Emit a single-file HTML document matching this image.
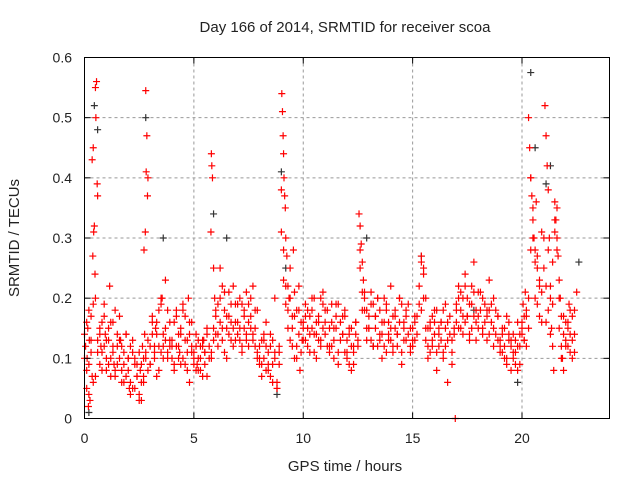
<!DOCTYPE html>
<html><head><meta charset="utf-8"><style>
body{margin:0;background:#fff}
svg text{font-family:"Liberation Sans",sans-serif;font-size:14px;fill:#222}
svg text.big{font-size:15px}
</style></head><body>
<svg id="chart" width="640" height="480">
<text class="big" x="345" y="32" text-anchor="middle">Day 166 of 2014, SRMTID for receiver scoa</text>
<text class="big" x="345" y="471" text-anchor="middle">GPS time / hours</text>
<text class="big" transform="translate(19,238) rotate(-90)" text-anchor="middle">SRMTID / TECUs</text>
<g id="grid"></g><g id="pts"></g>
<rect x="84.5" y="57.5" width="525" height="361" fill="none" stroke="#000"/>
<g id="ticks"></g>
</svg>
<script>
const xTicks=[0,5,10,15,20];
const yTicks=[0,0.1,0.2,0.3,0.4,0.5,0.6];
const yTickLabels=["0","0.1","0.2","0.3","0.4","0.5","0.6"];
const redT=[0.05,0.1,0.15,0.2,0.25,0.3,0.12,0.22,0.35,0.18,
0.35,0.55,0.5,0.4,0.45,0.42,0.58,0.48,0.52,0.6,0.38,
0.7,0.8,0.9,1.0,1.1,1.2,1.3,1.4,0.75,0.95,1.15,1.35,
1.5,1.6,1.7,1.8,1.9,2.0,2.1,2.2,2.3,2.4,1.65,2.05,
2.5,2.55,2.6,2.65,2.7,2.75,
2.8,2.85,2.82,2.9,2.88,2.78,2.72,
3.0,3.1,3.2,3.3,3.4,3.5,3.6,3.7,3.8,3.9,3.55,3.25,
4.0,4.1,4.2,4.3,4.4,4.5,4.6,4.7,4.8,4.9,4.35,4.75,
5.0,5.1,5.2,5.3,5.4,5.5,5.6,5.15,5.45,
5.8,5.82,5.85,5.78,5.9,5.95,
6.0,6.1,6.2,6.3,6.4,6.5,6.6,6.7,6.8,6.9,
7.0,7.1,7.2,7.3,7.4,7.5,7.6,7.7,7.8,7.9,
8.0,8.1,8.2,8.3,8.4,8.5,8.6,8.7,8.8,8.9,
9.02,9.05,9.08,9.1,9.12,9.15,9.18,9.2,9.25,9.3,
9.35,9.4,9.5,9.55,9.6,9.7,9.8,9.85,9.95,
10.0,10.1,10.2,10.3,10.4,10.5,10.6,10.7,10.8,10.9,11.0,11.2,11.4,11.5,11.6,11.8,11.9,11.3,
12.0,12.1,12.2,12.3,12.4,
12.55,12.6,12.65,12.7,12.75,12.8,
12.9,13.0,13.1,13.2,13.3,13.4,13.5,13.6,13.7,13.8,13.9,14.0,14.1,14.2,14.3,14.4,14.5,14.6,14.7,14.9,
15.0,15.1,15.4,15.5,15.6,15.7,15.8,15.9,16.0,16.1,16.2,16.3,16.4,16.5,16.6,16.8,
16.95,
17.0,17.1,17.2,17.3,17.4,17.5,17.6,17.7,17.8,17.9,18.0,18.2,18.4,18.5,18.7,18.9,
19.0,19.1,19.2,19.3,19.4,19.5,19.6,19.7,19.8,19.9,
20.0,20.05,20.1,20.15,20.2,
20.3,20.35,20.4,20.45,20.5,20.55,20.6,20.7,20.8,20.65,20.9,
21.05,21.1,21.15,21.2,21.25,21.3,21.35,21.4,21.45,
21.5,21.55,21.6,21.65,21.7,21.75,21.8,21.85,21.9,
22.0,22.1,22.15,22.2,22.3,22.4,22.5];
const redV=[0.12,0.05,0.15,0.09,0.03,0.17,0.1,0.13,0.07,0.02,
0.43,0.56,0.55,0.45,0.32,0.31,0.39,0.24,0.5,0.37,0.27,
0.15,0.11,0.19,0.08,0.13,0.1,0.16,0.07,0.12,0.14,0.22,0.09,
0.12,0.17,0.08,0.06,0.14,0.1,0.04,0.11,0.09,0.07,0.13,0.05,
0.03,0.08,0.06,0.12,0.1,0.14,
0.545,0.47,0.41,0.4,0.37,0.31,0.28,
0.09,0.16,0.12,0.07,0.18,0.11,0.14,0.23,0.1,0.13,0.2,0.15,
0.12,0.08,0.17,0.1,0.14,0.19,0.09,0.13,0.06,0.16,0.11,0.2,
0.1,0.14,0.08,0.12,0.07,0.11,0.15,0.09,0.13,
0.44,0.42,0.4,0.31,0.25,0.2,
0.18,0.12,0.25,0.15,0.21,0.1,0.17,0.13,0.22,0.16,
0.14,0.2,0.11,0.17,0.13,0.19,0.15,0.22,0.12,0.18,
0.1,0.07,0.13,0.16,0.09,0.12,0.06,0.2,0.05,0.11,
0.54,0.51,0.47,0.44,0.4,0.37,0.35,0.3,0.27,0.22,
0.2,0.25,0.15,0.28,0.1,0.18,0.22,0.08,0.13,
0.15,0.19,0.12,0.17,0.2,0.14,0.1,0.16,0.13,0.21,0.18,0.11,0.15,0.19,0.09,0.14,0.17,0.12,
0.1,0.14,0.08,0.12,0.16,
0.34,0.32,0.29,0.26,0.23,0.2,
0.18,0.15,0.21,0.12,0.17,0.2,0.14,0.1,0.16,0.19,0.13,0.22,0.11,0.17,0.14,0.2,0.09,0.15,0.18,0.12,
0.13,0.17,0.27,0.24,0.2,0.1,0.15,0.12,0.18,0.08,0.14,0.16,0.11,0.19,0.06,0.13,
0.0,
0.18,0.22,0.15,0.2,0.24,0.17,0.13,0.19,0.26,0.16,0.21,0.14,0.18,0.23,0.12,0.17,
0.12,0.15,0.1,0.17,0.13,0.08,0.14,0.11,0.16,0.09,
0.15,0.19,0.13,0.21,0.17,
0.5,0.45,0.4,0.37,0.33,0.3,0.28,0.25,0.22,0.36,0.31,
0.52,0.47,0.42,0.38,0.3,0.2,0.15,0.12,0.08,
0.36,0.33,0.3,0.27,0.23,0.2,0.17,0.1,0.08,
0.12,0.16,0.19,0.14,0.1,0.18,0.21];
const gridT=[0.0,0.1,0.2,0.3,0.4,0.5,0.6,0.7,0.8,0.9,
1.0,1.1,1.2,1.3,1.4,1.5,1.6,1.7,1.8,1.9,
2.0,2.1,2.2,2.3,2.4,2.5,2.6,2.7,2.8,2.9,
3.0,3.1,3.2,3.3,3.4,3.5,3.6,3.7,3.8,3.9,
4.0,4.1,4.2,4.3,4.4,4.5,4.6,4.7,4.8,4.9,
5.0,5.1,5.2,5.3,5.4,5.5,5.6,5.7,5.8,5.9,
6.0,6.1,6.2,6.3,6.4,6.5,6.6,6.7,6.8,6.9,
7.0,7.1,7.2,7.3,7.4,7.5,7.6,7.7,7.8,7.9,
8.0,8.1,8.2,8.3,8.4,8.5,8.6,8.7,8.8,8.9,
9.0,9.1,9.2,9.3,9.4,9.5,9.6,9.7,9.8,9.9,
10.0,10.1,10.2,10.3,10.4,10.5,10.6,10.7,10.8,10.9,
11.0,11.1,11.2,11.3,11.4,11.5,11.6,11.7,11.8,11.9,
12.0,12.1,12.2,12.3,12.4,12.5,12.6,12.7,12.8,12.9,
13.0,13.1,13.2,13.3,13.4,13.5,13.6,13.7,13.8,13.9,
14.0,14.1,14.2,14.3,14.4,14.5,14.6,14.7,14.8,14.9,
15.0,15.1,15.2,15.3,15.4,15.5,15.6,15.7,15.8,15.9,
16.0,16.1,16.2,16.3,16.4,16.5,16.6,16.7,16.8,16.9,
17.0,17.1,17.2,17.3,17.4,17.5,17.6,17.7,17.8,17.9,
18.0,18.1,18.2,18.3,18.4,18.5,18.6,18.7,18.8,18.9,
19.0,19.1,19.2,19.3,19.4,19.5,19.6,19.7,19.8,19.9,
20.0,20.1,20.2,20.3,20.4,20.5,20.6,20.7,20.8,20.9,
21.0,21.1,21.2,21.3,21.4,21.5,21.6,21.7,21.8,21.9,
22.0,22.1,22.2,22.3,22.4];
const redV2=[0.14,0.08,0.18,0.11,0.06,0.2,0.13,0.09,0.16,0.12,
0.1,0.15,0.07,0.12,0.18,0.09,0.13,0.06,0.11,0.14,
0.08,0.12,0.05,0.1,0.07,0.04,0.09,0.06,0.11,0.08,
0.12,0.17,0.1,0.14,0.08,0.19,0.12,0.15,0.11,0.16,
0.13,0.09,0.18,0.12,0.15,0.1,0.17,0.08,0.14,0.11,
0.09,0.12,0.1,0.08,0.13,0.11,0.07,0.12,0.1,0.15,
0.17,0.14,0.2,0.13,0.18,0.15,0.21,0.16,0.12,0.19,
0.16,0.13,0.19,0.15,0.21,0.12,0.17,0.14,0.18,0.11,
0.12,0.09,0.14,0.08,0.11,0.07,0.13,0.1,0.06,0.09,
0.31,0.23,0.19,0.15,0.2,0.12,0.17,0.1,0.14,0.16,
0.16,0.13,0.18,0.11,0.15,0.2,0.14,0.17,0.12,0.19,
0.14,0.18,0.12,0.16,0.1,0.15,0.19,0.13,0.17,0.11,
0.13,0.09,0.15,0.11,0.14,0.12,0.25,0.18,0.21,0.15,
0.17,0.13,0.19,0.15,0.12,0.18,0.14,0.2,0.11,0.16,
0.15,0.12,0.18,0.14,0.2,0.11,0.16,0.13,0.19,0.15,
0.12,0.16,0.14,0.22,0.18,0.25,0.13,0.15,0.11,0.17,
0.14,0.18,0.12,0.16,0.1,0.15,0.13,0.17,0.11,0.14,
0.16,0.2,0.18,0.14,0.22,0.17,0.19,0.15,0.21,0.18,
0.17,0.21,0.15,0.19,0.13,0.18,0.16,0.2,0.14,0.17,
0.13,0.11,0.15,0.09,0.14,0.12,0.1,0.13,0.08,0.12,
0.14,0.17,0.12,0.2,0.28,0.35,0.26,0.19,0.23,0.16,
0.3,0.22,0.18,0.14,0.26,0.31,0.35,0.2,0.12,0.17,
0.13,0.15,0.11,0.17,0.14];
const redV3=[0.1,0.16,0.04,0.13,0.19,0.07,0.11,0.14,0.08,0.17,
0.13,0.09,0.16,0.11,0.08,0.14,0.1,0.12,0.09,0.07,
0.1,0.06,0.13,0.05,0.09,0.11,0.03,0.07,0.1,0.13,
0.09,0.14,0.11,0.16,0.12,0.2,0.1,0.13,0.18,0.12,
0.1,0.16,0.12,0.14,0.09,0.18,0.13,0.11,0.16,0.12,
0.11,0.08,0.13,0.1,0.12,0.09,0.14,0.1,0.11,0.13,
0.14,0.19,0.16,0.22,0.11,0.17,0.14,0.19,0.15,0.13,
0.19,0.15,0.12,0.18,0.14,0.16,0.2,0.13,0.15,0.1,
0.09,0.13,0.1,0.12,0.08,0.14,0.09,0.11,0.05,0.12,
0.38,0.28,0.22,0.18,0.13,0.17,0.21,0.12,0.18,0.11,
0.13,0.17,0.15,0.14,0.18,0.11,0.16,0.13,0.2,0.15,
0.16,0.12,0.15,0.19,0.13,0.17,0.11,0.16,0.14,0.18,
0.11,0.15,0.12,0.09,0.16,0.13,0.28,0.21,0.18,0.13,
0.15,0.19,0.12,0.17,0.2,0.13,0.16,0.12,0.18,0.14,
0.13,0.17,0.15,0.12,0.16,0.19,0.13,0.17,0.14,0.11,
0.15,0.13,0.17,0.19,0.26,0.2,0.15,0.12,0.16,0.13,
0.16,0.11,0.15,0.13,0.18,0.12,0.16,0.14,0.09,0.15,
0.19,0.15,0.21,0.17,0.16,0.2,0.14,0.22,0.17,0.13,
0.15,0.18,0.2,0.16,0.17,0.14,0.19,0.15,0.18,0.13,
0.11,0.14,0.12,0.1,0.16,0.13,0.11,0.09,0.12,0.14,
0.16,0.13,0.18,0.15,0.4,0.3,0.2,0.27,0.17,0.21,
0.25,0.16,0.28,0.22,0.19,0.33,0.28,0.15,0.1,0.14,
0.16,0.12,0.18,0.13,0.11];
const blackT=[0.6,0.45,2.8,3.6,5.9,6.5,9.0,9.2,12.9,15.4,20.4,20.6,21.1,21.3,22.6,0.2,8.8,19.8,13.2,17.8];
const blackV=[0.48,0.52,0.5,0.3,0.34,0.3,0.41,0.25,0.3,0.27,0.575,0.45,0.39,0.42,0.26,0.01,0.04,0.06,0.12,0.18];
const NS="http://www.w3.org/2000/svg";
const X0=84.5,X1=609.5,Y0=418.5,Y1=57.5;
const sx=t=>X0+t/24*(X1-X0);
const sy=v=>Y0-v/0.6*(Y0-Y1);
const grid=document.getElementById('grid'),ticks=document.getElementById('ticks'),pts=document.getElementById('pts');
function mk(tag,a,p){const e=document.createElementNS(NS,tag);for(const k in a)e.setAttribute(k,a[k]);p.appendChild(e);return e;}
xTicks.forEach(t=>{const x=sx(t);
 if(t>0){const g=mk('line',{x1:x,x2:x,y1:Y1,y2:Y0,stroke:'#999','stroke-dasharray':'3,3'},grid);
 
 }
 mk('line',{x1:x,x2:x,y1:Y0,y2:Y0-6,stroke:'#000'},ticks);
 mk('line',{x1:x,x2:x,y1:Y1,y2:Y1+6,stroke:'#000'},ticks);
 const l=mk('text',{x:x,y:443,'text-anchor':'middle'},ticks);l.textContent=t;
 
 });
yTicks.forEach((v,i)=>{const y=sy(v);
 if(v>0&&v<0.6){const g=mk('line',{x1:X0,x2:X1,y1:y,y2:y,stroke:'#999','stroke-dasharray':'3,3'},grid);
 
 }
 mk('line',{x1:X0,x2:X0+6,y1:y,y2:y,stroke:'#000'},ticks);
 mk('line',{x1:X1,x2:X1-6,y1:y,y2:y,stroke:'#000'},ticks);
 const l=mk('text',{x:72,y:y+5,'text-anchor':'end'},ticks);l.textContent=yTickLabels[i];
 
 });
function plus(t,v,c,name){const x=sx(t),y=sy(v);
 const p=mk('path',{d:`M${x-3.5},${y}H${x+3.5}M${x},${y-3.5}V${y+3.5}`,stroke:c,'stroke-width':1.2,fill:'none'},pts);
 
 }
blackT.forEach((t,i)=>plus(t,blackV[i],'#333','black-point'));
gridT.forEach((t,i)=>plus(t,redV2[i],'#f00','red-point'));
gridT.forEach((t,i)=>plus(t,redV3[i],'#f00','red-point'));
redT.forEach((t,i)=>plus(t,redV[i],'#f00','red-point'));
</script>
</body></html>
